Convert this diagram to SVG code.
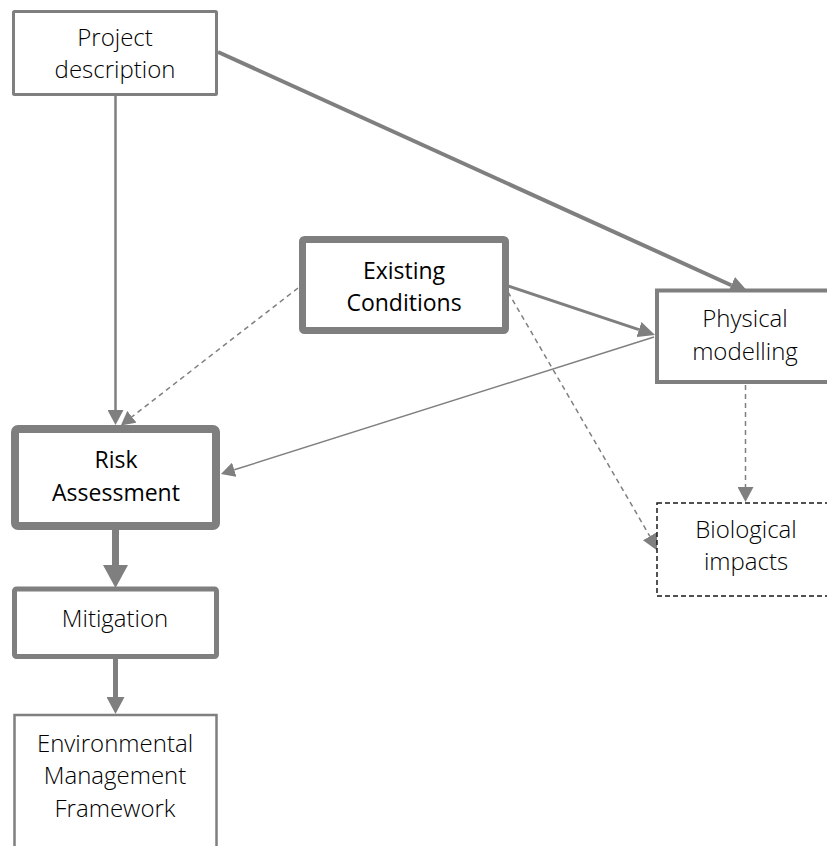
<svg xmlns="http://www.w3.org/2000/svg" width="827" height="846" viewBox="0 0 827 846">
  <style>
    .box { fill: #ffffff; stroke: #7f7f7f; }
    .dash-box { fill: #ffffff; stroke: #1a1a1a; stroke-width: 1.5; stroke-dasharray: 5 3; }
    .lbl { font-family: "Open Sans", "Liberation Sans", sans-serif; font-size: 24px; font-weight: 300; fill: #000000; text-anchor: middle; }
    .lbl-b { font-family: "Open Sans", "Liberation Sans", sans-serif; font-size: 23px; font-weight: 400; fill: #000000; text-anchor: middle; }
    .conn { fill: none; stroke: #7f7f7f; }
    .dashed { stroke-width: 1.5; stroke-dasharray: 5 4; }
    .head { fill: #7f7f7f; stroke: none; }
  </style>
  <defs>
    <!-- arrowheads: base at the line end, tip extends forward -->
    <marker id="ah20" markerUnits="userSpaceOnUse" viewBox="0 0 20 18" markerWidth="20" markerHeight="18" refX="0" refY="9" orient="auto">
      <path class="head" d="M0,0 L20,9 L0,18 Z"/>
    </marker>
    <marker id="ah17" markerUnits="userSpaceOnUse" viewBox="0 0 17 16" markerWidth="17" markerHeight="16" refX="0" refY="8" orient="auto">
      <path class="head" d="M0,0 L17,8 L0,16 Z"/>
    </marker>
    <marker id="ah15" markerUnits="userSpaceOnUse" viewBox="0 0 15 16" markerWidth="15" markerHeight="16" refX="0" refY="8" orient="auto">
      <path class="head" d="M0,0 L15,8 L0,16 Z"/>
    </marker>
    <marker id="ah14" markerUnits="userSpaceOnUse" viewBox="0 0 14 15" markerWidth="14" markerHeight="15" refX="0" refY="7.5" orient="auto">
      <path class="head" d="M0,0 L14,7.5 L0,15 Z"/>
    </marker>
    <marker id="ah18" markerUnits="userSpaceOnUse" viewBox="0 0 18 16" markerWidth="18" markerHeight="16" refX="0" refY="8" orient="auto">
      <path class="head" d="M0,0 L18,8 L0,16 Z"/>
    </marker>
    <marker id="ah23" markerUnits="userSpaceOnUse" viewBox="0 0 23 25" markerWidth="23" markerHeight="25" refX="0" refY="12.5" orient="auto">
      <path class="head" d="M0,0 L23,12.5 L0,25 Z"/>
    </marker>
    <marker id="ah17w" markerUnits="userSpaceOnUse" viewBox="0 0 17 18" markerWidth="17" markerHeight="18" refX="0" refY="9" orient="auto">
      <path class="head" d="M0,0 L17,9 L0,18 Z"/>
    </marker>
  </defs>

  <g id="connectors">
    <line class="conn" x1="218" y1="52" x2="731.3" y2="285.2" stroke-width="4" marker-end="url(#ah20)"/>
    <line class="conn" x1="115.5" y1="96" x2="115.5" y2="410" stroke-width="2.5" marker-end="url(#ah15)"/>
    <line class="conn" x1="508" y1="286" x2="638.9" y2="329.6" stroke-width="3" marker-end="url(#ah17)"/>
    <line class="conn" x1="654" y1="337" x2="234.3" y2="469.8" stroke-width="1.5" marker-end="url(#ah14)"/>
    <line class="conn dashed" x1="298" y1="288" x2="131.9" y2="416.8" marker-end="url(#ah14)"/>
    <line class="conn dashed" x1="508" y1="292" x2="649.8" y2="536.2" marker-end="url(#ah18)"/>
    <line class="conn dashed" x1="745.5" y1="385" x2="745.5" y2="487" marker-end="url(#ah15)"/>
    <line class="conn" x1="115.5" y1="530" x2="115.5" y2="565" stroke-width="7" marker-end="url(#ah23)"/>
    <line class="conn" x1="115.5" y1="659" x2="115.5" y2="697" stroke-width="5" marker-end="url(#ah17w)"/>
  </g>

  <g id="project-description">
    <rect class="box" x="13.5" y="11.5" width="203" height="83" stroke-width="3" rx="1"/>
    <text class="lbl" x="115" y="46">Project</text>
    <text class="lbl" x="115" y="78">description</text>
  </g>

  <g id="existing-conditions">
    <rect class="box" x="302.5" y="239.5" width="203" height="91" stroke-width="7" rx="2"/>
    <text class="lbl-b" x="404" y="279">Existing</text>
    <text class="lbl-b" x="404" y="311">Conditions</text>
  </g>

  <g id="physical-modelling">
    <rect class="box" x="657" y="290.5" width="200" height="91.5" stroke-width="4"/>
    <text class="lbl" x="745" y="327">Physical</text>
    <text class="lbl" x="745" y="360">modelling</text>
  </g>

  <g id="biological-impacts">
    <rect class="dash-box" x="657" y="503" width="200" height="93"/>
    <text class="lbl" x="746" y="538">Biological</text>
    <text class="lbl" x="746" y="570">impacts</text>
  </g>

  <g id="risk-assessment">
    <rect class="box" x="15" y="429" width="201" height="97" stroke-width="8" rx="3"/>
    <text class="lbl-b" x="116" y="468">Risk</text>
    <text class="lbl-b" x="116" y="501">Assessment</text>
  </g>

  <g id="mitigation">
    <rect class="box" x="14.5" y="589" width="202" height="67.5" stroke-width="5" rx="2"/>
    <text class="lbl" x="115" y="627">Mitigation</text>
  </g>

  <g id="environmental-management-framework">
    <rect class="box" x="14.5" y="715" width="202" height="145" stroke-width="2.5"/>
    <text class="lbl" x="115" y="752">Environmental</text>
    <text class="lbl" x="115" y="784">Management</text>
    <text class="lbl" x="115" y="817">Framework</text>
  </g>
</svg>
